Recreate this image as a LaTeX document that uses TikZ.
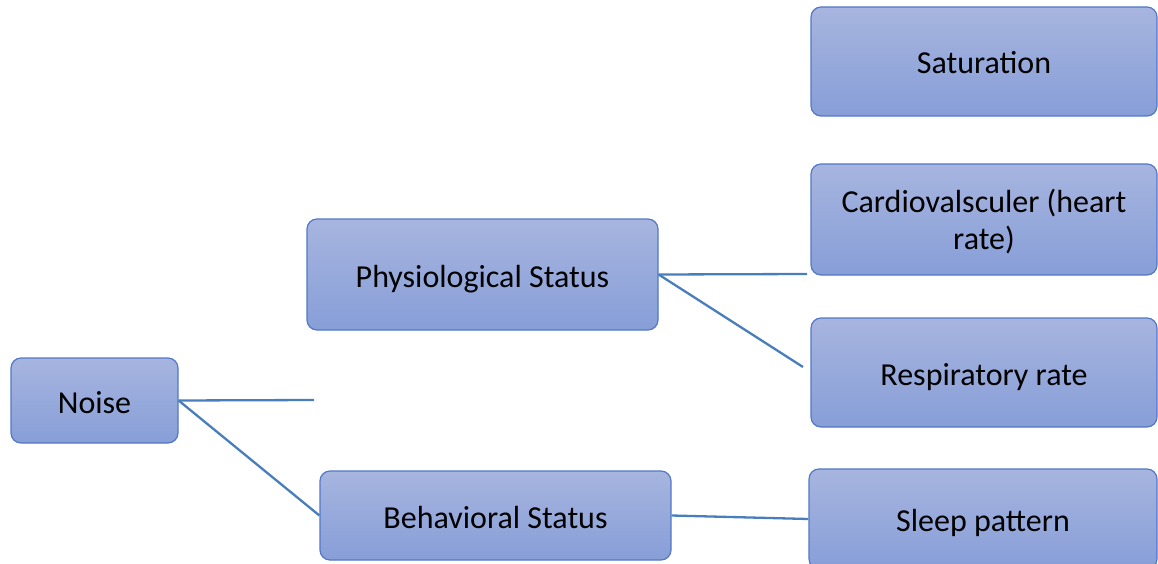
\documentclass[tikz,border=0pt]{standalone}
\usepackage{fontspec}
\setmainfont{Carlito}
\definecolor{boxtop}{RGB}{167,181,223}
\definecolor{boxbot}{RGB}{135,158,216}
\definecolor{boxline}{RGB}{82,120,198}
\definecolor{connc}{RGB}{72,126,187}
\begin{document}
\begin{tikzpicture}[x=1pt,y=-1pt,
  box/.style={draw=boxline, line width=1.2pt, rounded corners=10pt,
    top color=boxtop, bottom color=boxbot, inner sep=0pt,
    font=\fontsize{32}{37}\selectfont, align=center, text=black},
  oneline/.style={text height=31pt, text depth=6pt},
  twoline/.style={text height=67pt, text depth=7pt},
  conn/.style={draw=connc, line width=2.3pt}]
\useasboundingbox (0,0) rectangle (1158,564);
\node[box, oneline, minimum width=167pt, minimum height=85pt] (noise) at (94.5,400.5) {Noise};
\node[box, oneline, minimum width=351pt, minimum height=111pt] (phys) at (482.5,274.5) {Physiological Status};
\node[box, oneline, minimum width=351pt, minimum height=89pt] (behav) at (495.5,515.5) {Behavioral Status};
\node[box, oneline, minimum width=346pt, minimum height=109pt] (sat) at (984,61.5) {Saturation};
\node[box, twoline, minimum width=346pt, minimum height=111pt] (card) at (984,219.5) {Cardiovalsculer (heart\\rate)};
\node[box, oneline, minimum width=346pt, minimum height=109pt] (resp) at (984,372.5) {Respiratory rate};
\node[box, oneline, minimum width=348pt, minimum height=100pt] (sleep) at (983,519) {Sleep pattern};
\coordinate (nfree) at (314,400);
\coordinate (pfree1) at (807,274);
\coordinate (pfree2) at (803,367);
\draw[conn] (noise.east) -- (nfree);
\draw[conn] (noise.east) -- (behav.west);
\draw[conn] (phys.east) -- (pfree1);
\draw[conn] (phys.east) -- (pfree2);
\draw[conn] (behav.east) -- (sleep.west);
\end{tikzpicture}
\end{document}
